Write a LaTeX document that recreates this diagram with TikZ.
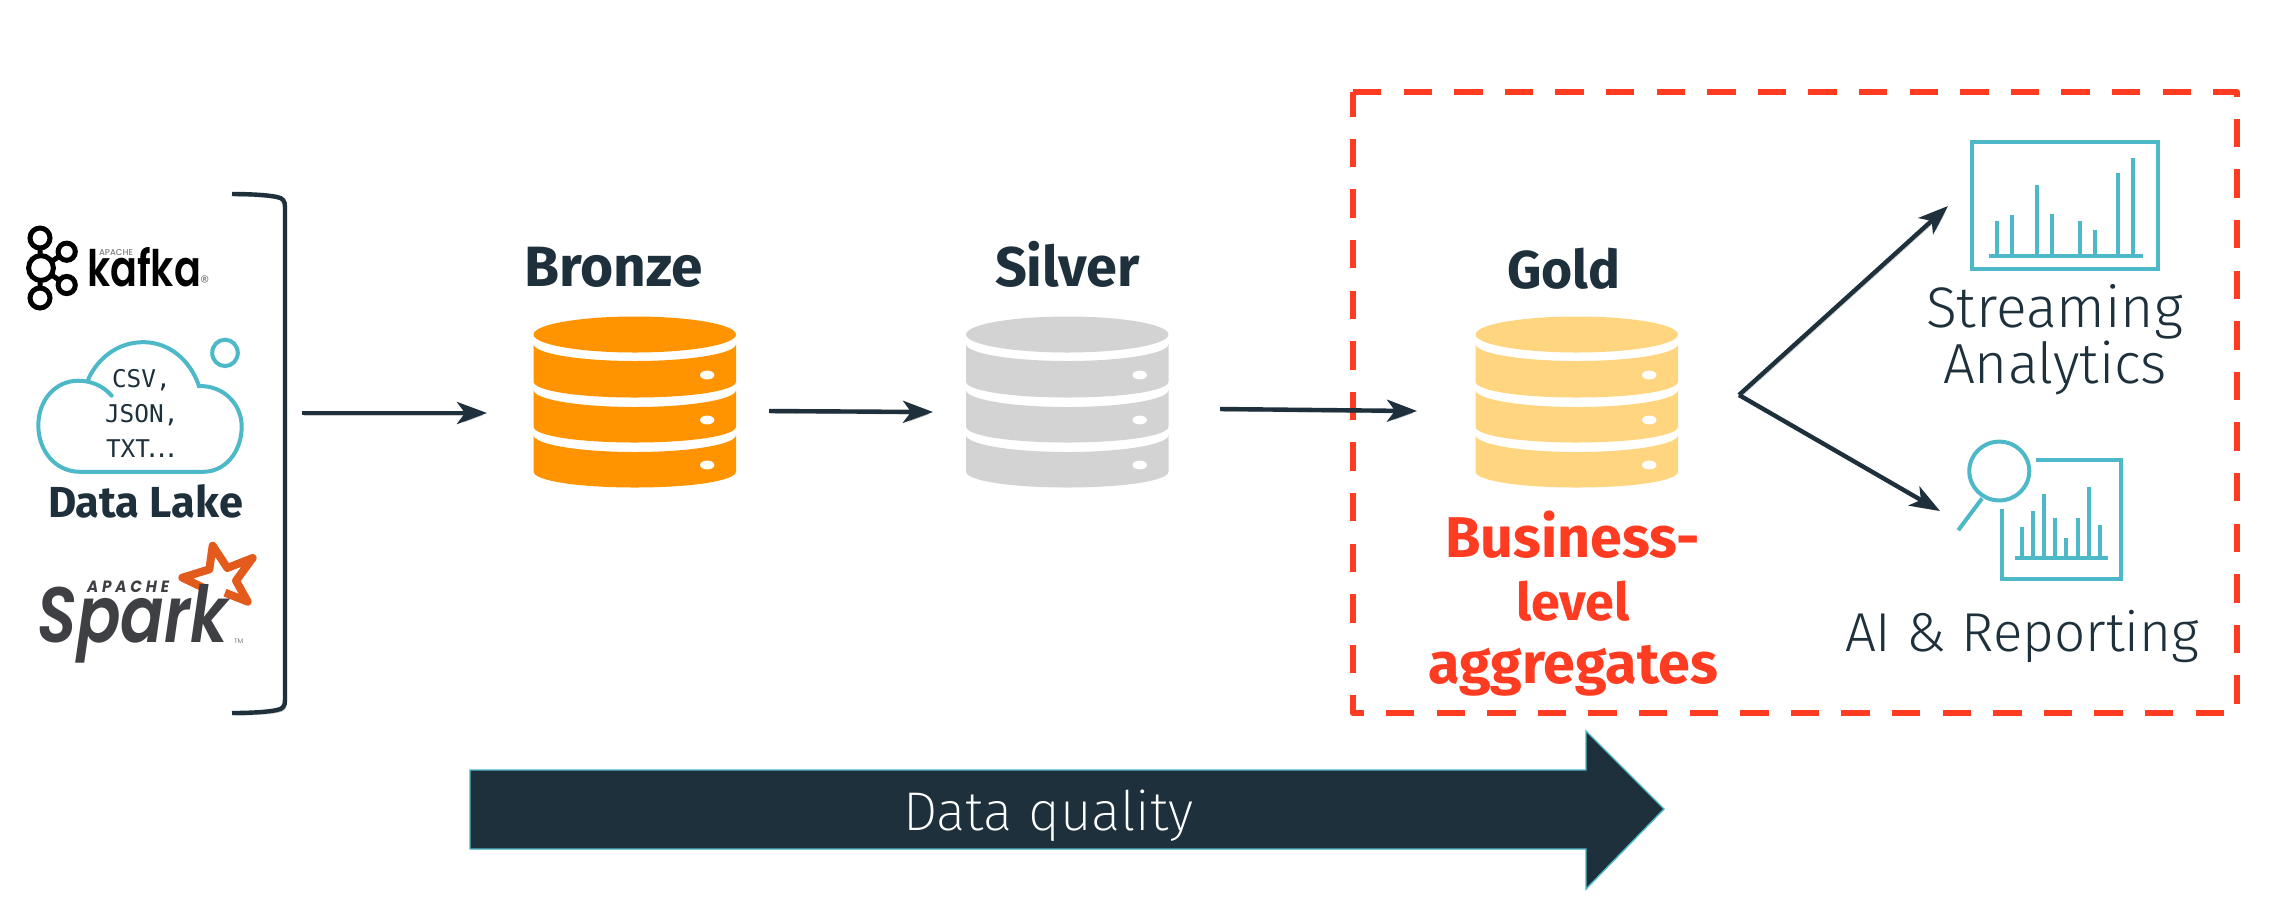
\documentclass[tikz,border=0pt]{standalone}
\usepackage{fontspec}
\usepackage{graphicx}
\usetikzlibrary{arrows.meta}
\setmainfont{Fira Sans}
\newfontfamily\lightf{Fira Sans Light}
\newfontfamily\xlightf{Fira Sans ExtraLight}
\newfontfamily\popf{Poppins}
\newfontfamily\popm{Poppins Medium}
\newfontfamily\pops{Poppins SemiBold}
\newfontfamily\monof{DejaVu Sans Mono}
\definecolor{ink}{HTML}{1D303B}
\definecolor{teal}{HTML}{4DB8C8}
\definecolor{redd}{HTML}{FF3B21}
\definecolor{bronzec}{HTML}{FF9400}
\definecolor{silverc}{HTML}{D3D3D3}
\definecolor{goldc}{HTML}{FFD57F}
\definecolor{sparkc}{HTML}{3F4044}
\definecolor{starc}{HTML}{E25A1C}
\newcommand{\dbband}[2]{(0,#1) .. controls (0,#1+9.4) and (45.5,#1+17) .. (101.25,#1+17) .. controls (157,#1+17) and (202.5,#1+9.4) .. (202.5,#1) -- (202.5,#2) .. controls (202.5,#2+9.4) and (157,#2+16) .. (101.25,#2+16) .. controls (45.5,#2+16) and (0,#2+9.4) .. (0,#2) -- cycle}
\newcommand{\dbcyl}[2]{%
 \begin{scope}[shift={(#1,0)}]
  \fill[#2] (101.25,334.5) ellipse [x radius=50.6pt,y radius=9pt];
  \fill[#2] \dbband{344}{381.5};
  \fill[#2] \dbband{390}{426.5};
  \fill[#2] \dbband{435}{471.5};
  \foreach \hy in {375,420,465}{\fill[white] (173.7,\hy) ellipse [x radius=3.6pt,y radius=2.2pt];}
 \end{scope}}
\tikzset{
 x=0.5pt,y=-0.5pt,
 txt/.style={inner sep=0pt,outer sep=0pt,anchor=base west},
 head/.style={txt,text=ink,font=\bfseries\fontsize{28}{30}\selectfont},
 redt/.style={txt,text=redd,font=\bfseries\fontsize{28}{30}\selectfont},
 lite/.style={txt,text=ink,font=\lightf\fontsize{23}{26}\selectfont},
 mono/.style={txt,text=ink,font=\monof\fontsize{12.2}{14}\selectfont},
 sh/.style={preaction={draw=black,opacity=.2,transform canvas={shift={(.8pt,-1.1pt)}}}},
 arr/.style={draw=ink,line width=2.2pt,sh,-{Stealth[length=15pt,width=11pt,inset=4pt]}},
 icon/.style={draw=teal,line width=2pt},
 ring/.style={draw=black,line width=2.5pt},
}
\begin{document}
\begin{tikzpicture}
\useasboundingbox (0,0) rectangle (2274,912);
\fill[white] (0,0) rectangle (2274,912);
% bracket
\coordinate (brA) at (232,194);
\coordinate (brB) at (232,713);
\draw[ink,line width=2.2pt,sh] (brA) .. controls (250,194) and (268,195) .. (277,197) .. controls (283,198) and (285,201) .. (285,207) -- (285,700) .. controls (285,706) and (283,709) .. (277,710) .. controls (268,712) and (250,713) .. (brB);
% kafka logo
\coordinate (kt) at (40,238); \coordinate (kb) at (40,298); \coordinate (kc) at (41,268);
\coordinate (kr) at (66.7,251.7); \coordinate (ks) at (66.7,285);
\draw[ring] (kt) -- (kb) (kc) -- (kr) (kc) -- (ks);
\foreach \k/\r in {kt/5,kb/5,kc/6.2,kr/4.3,ks/4.3}{\filldraw[ring,fill=white] (\k) circle [radius=\r pt];}
\node[txt,text=black] (kafka) at (87,286) {\resizebox{57pt}{19.6pt}{\pops\fontsize{20}{22}\selectfont kafka}};
\node[txt,text=black!50] (kapache) at (99,255) {\resizebox{17pt}{!}{\popm\fontsize{5}{6}\selectfont APACHE}};
\node[txt,text=black!50] (kreg) at (200,288) {\resizebox{4.6pt}{!}{\popf\fontsize{5}{6}\selectfont ®}};
% cloud
\begin{scope}[shift={(0,170)},x=.16667pt,y=-.17857pt]
 \draw[icon,line cap=round] (335,632) .. controls (310,605) and (275,590) .. (235,590) .. controls (165,590) and (115,645) .. (115,715) .. controls (115,785) and (165,845) .. (240,845) -- (610,845) .. controls (675,845) and (725,790) .. (725,718) .. controls (725,655) and (670,603) .. (597,605) .. controls (570,530) and (505,482) .. (430,482) .. controls (355,482) and (295,525) .. (265,585);
 \draw[icon] (675,512) ellipse [x radius=6.4pt,y radius=6.6pt];
\end{scope}
\node[mono] (csv) at (112,387) {CSV,};
\node[mono] (json) at (105,422) {JSON,};
\node[mono] (txt) at (106,457) {TXT\kern-2.6pt.\kern-2.6pt.\kern-2.6pt.};
\node[txt,text=ink] (lake) at (48,517) {\resizebox{97.5pt}{!}{\bfseries\fontsize{20}{22}\selectfont Data Lake}};
% spark logo
\begin{scope}[shift={(30,530)},x=.16667pt,y=-.16667pt]
 \coordinate (s0) at (522,174); \coordinate (s1) at (457,143); \coordinate (s2) at (538,118);
 \coordinate (s3) at (548,47); \coordinate (s4) at (592,114); \coordinate (s5) at (668,84);
 \coordinate (s6) at (618,152); \coordinate (s7) at (653,215); \coordinate (s8) at (585,188);
 \draw[starc,line width=4pt,line join=round] (s0) -- (s1) -- (s2) -- (s3) -- (s4) -- (s5) -- (s6) -- (s7) -- (s8);
\end{scope}
\node[txt,text=sparkc] (spark) at (38,642) {\resizebox{95pt}{29pt}{\pops\itshape\fontsize{34}{36}\selectfont Spark}};
\node[txt,text=sparkc] (sapache) at (87,592) {\resizebox{41pt}{5.8pt}{\popf\bfseries\itshape\addfontfeature{LetterSpace=25}\fontsize{7.5}{9}\selectfont APACHE}};
\node[txt,text=sparkc!70] (stm) at (234,643) {\resizebox{4.6pt}{!}{\popf\fontsize{4}{5}\selectfont TM}};
% databases
\dbcyl{533.5}{bronzec}
\dbcyl{966}{silverc}
\dbcyl{1475.5}{goldc}
\node[head] (bronze) at (524,286) {\resizebox{89.5pt}{!}{Bronze}};
\node[head] (silver) at (995,286) {\resizebox{72.5pt}{!}{Silver}};
\node[head] (gold) at (1507,288) {\resizebox{56.5pt}{!}{Gold}};
\node[redt] (biz1) at (1445,557) {\resizebox{127.5pt}{!}{Business-}};
\node[redt] (biz2) at (1516,620) {\resizebox{57pt}{!}{level}};
\node[redt] (biz3) at (1428,683) {\resizebox{145pt}{!}{aggregates}};
% dashed box
\draw[redd,line width=3pt,dash pattern=on 14.2pt off 11.1pt,line join=round] (1353,92) -- (2237,92) -- (2237,713) -- (1353,713) -- cycle;
% arrows
\coordinate (a1s) at (302,413); \coordinate (a1e) at (487,413);
\coordinate (a2s) at (769,411); \coordinate (a2e) at (933,412);
\coordinate (a3s) at (1220,409); \coordinate (a3e) at (1417,411);
\draw[arr] (a1s) -- (a1e);
\draw[arr] (a2s) -- (a2e);
\draw[arr] (a3s) -- (a3e);
\coordinate (fork) at (1739,395);
\coordinate (f1) at (1948,206);
\coordinate (f2) at (1940,511);
\draw[arr] (fork) -- (f1);
\draw[arr] (fork) -- (f2);
% icons
\begin{scope}[shift={(1700,80)},x=.18315pt,y=-.20408pt]
 \draw[icon] (742,153) rectangle (1250,463);
 \draw[icon] (788,430) -- (1210,430);
 \foreach \bx/\by in {811/345,851/330,920/257,960/328,1038/345,1078/368,1142/228,1183/190}{\draw[icon] (\bx,\by) -- (\bx,430);}
 \draw[icon] (817,958) ellipse [x radius=15pt,y radius=14.7pt];
 \draw[icon] (770,1025) -- (705,1103);
 \draw[icon] (918,932) -- (1148,932) -- (1148,1222) -- (824,1222) -- (824,1050);
 \draw[icon] (860,1172) -- (1115,1172);
 \foreach \bx/\by in {878/1095,908/1057,940/1015,970/1072,1000/1122,1031/1072,1062/998,1093/1090}{\draw[icon] (\bx,\by) -- (\bx,1172);}
\end{scope}
\node[lite] (stream) at (1926,327) {\resizebox{128.5pt}{!}{Streaming}};
\node[lite] (analy) at (1943,383) {\resizebox{112pt}{!}{Analytics}};
\node[lite] (aireport) at (1845,651) {\resizebox{177pt}{!}{AI \& Reporting}};
% data quality arrow
\filldraw[fill=ink,draw=teal,line width=.7pt] (470,770) -- (1586,770) -- (1586,731) -- (1664,809) -- (1586,889) -- (1586,849) -- (470,849) -- cycle;
\node[txt,text=white] (dq) at (903,830) {\resizebox{145pt}{!}{\xlightf\fontsize{28}{30}\selectfont Data quality}};
\end{tikzpicture}
\end{document}
